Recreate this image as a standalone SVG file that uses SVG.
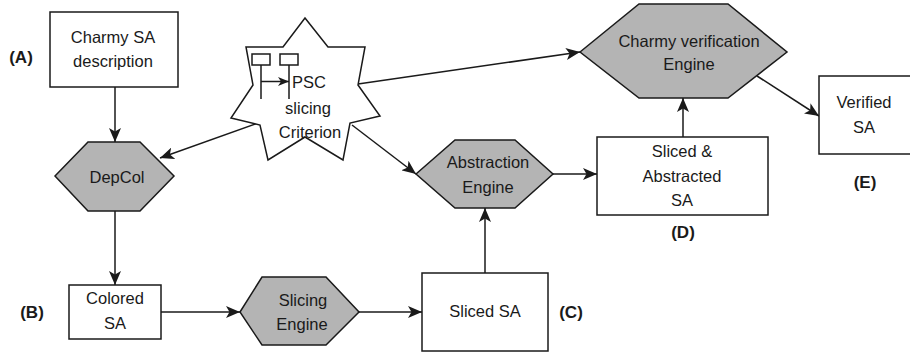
<svg xmlns="http://www.w3.org/2000/svg" width="910" height="352" viewBox="0 0 910 352">
<defs>
<marker id="ah" markerUnits="userSpaceOnUse" markerWidth="15" markerHeight="12" refX="14" refY="6" orient="auto">
<path d="M0,0 L14,6 L0,12 L3.5,6 z" fill="#1a1a1a"/>
</marker>
<marker id="ahs" markerUnits="userSpaceOnUse" markerWidth="12" markerHeight="10" refX="11" refY="4.5" orient="auto">
<path d="M0,0 L11,4.5 L0,9 L3,4.5 z" fill="#1a1a1a"/>
</marker>
<style>
.box{fill:#fff;stroke:#1a1a1a;stroke-width:1.5}
.hex{fill:#b4b4b4;stroke:#1a1a1a;stroke-width:1.5}
.t{font-family:"Liberation Sans",Arial,sans-serif;font-size:16.5px;fill:#1a1a1a;text-anchor:middle}
.lb{font-family:"Liberation Sans",Arial,sans-serif;font-size:17px;font-weight:bold;fill:#1a1a1a;text-anchor:middle}
.c{fill:none;stroke:#1a1a1a;stroke-width:1.5;marker-end:url(#ah)}
</style>
</defs>

<g id="connectors">
<line class="c" x1="115" y1="87" x2="115" y2="142"/>
<line class="c" x1="258" y1="123" x2="160" y2="158"/>
<line class="c" x1="115" y1="211" x2="115" y2="285"/>
<line class="c" x1="161" y1="312" x2="240" y2="312"/>
<line class="c" x1="359" y1="312" x2="422" y2="312"/>
<line class="c" x1="485" y1="273" x2="485" y2="208"/>
<line class="c" x1="352" y1="125" x2="416" y2="174"/>
<line class="c" x1="553" y1="174" x2="597" y2="174"/>
<line class="c" x1="358" y1="84" x2="580" y2="52"/>
<line class="c" x1="683" y1="137" x2="683" y2="98"/>
<line class="c" x1="757" y1="76" x2="819" y2="116"/>
</g>

<g id="nodeA">
<rect class="box" x="50" y="12" width="128" height="75"/>
<text class="t" x="113" y="43">Charmy SA</text>
<text class="t" x="113" y="67">description</text>
</g>
<text class="lb" x="21" y="63">(A)</text>

<g id="psc">
<polygon class="box" points="305,18 328,47 365,47 358,85 380,116 350,123 343,160 305,137 268,160 260,125 231,118 253,85 246,47 283,47"/>
<rect x="252" y="54" width="18" height="11" fill="#fff" stroke="#1a1a1a" stroke-width="1.5"/>
<rect x="280" y="54" width="18" height="11" fill="#fff" stroke="#1a1a1a" stroke-width="1.5"/>
<line x1="261" y1="65" x2="261" y2="99" stroke="#1a1a1a" stroke-width="1.5"/>
<line x1="289" y1="65" x2="289" y2="99" stroke="#1a1a1a" stroke-width="1.5"/>
<line x1="261" y1="81.5" x2="289" y2="81.5" stroke="#1a1a1a" stroke-width="1.5" marker-end="url(#ahs)"/>
<text class="t" x="292" y="88" style="text-anchor:start">PSC</text>
<text class="t" x="308" y="114">slicing</text>
<text class="t" x="310" y="138">Criterion</text>
</g>

<g id="depcol">
<polygon class="hex" points="55,176 88,142 140,142 174,176 140,211 88,211"/>
<text class="t" x="117" y="183">DepCol</text>
</g>

<g id="colored">
<rect class="box" x="69" y="285" width="92" height="54"/>
<text class="t" x="115" y="304">Colored</text>
<text class="t" x="115" y="329">SA</text>
</g>
<text class="lb" x="32" y="318">(B)</text>

<g id="slicing">
<polygon class="hex" points="240,312 262,277 326,277 359,312 326,345 262,345"/>
<text class="t" x="303" y="306">Slicing</text>
<text class="t" x="302" y="330">Engine</text>
</g>

<g id="sliced">
<rect class="box" x="422" y="273" width="126" height="78"/>
<text class="t" x="485" y="317">Sliced SA</text>
</g>
<text class="lb" x="571" y="318">(C)</text>

<g id="abstraction">
<polygon class="hex" points="416,174 455,140 515,140 553,174 515,208 455,208"/>
<text class="t" x="488" y="168">Abstraction</text>
<text class="t" x="488" y="193">Engine</text>
</g>

<g id="slicedabs">
<rect class="box" x="597" y="137" width="171" height="78"/>
<text class="t" x="682" y="157">Sliced &amp;</text>
<text class="t" x="682" y="182">Abstracted</text>
<text class="t" x="682" y="206">SA</text>
</g>
<text class="lb" x="683" y="238">(D)</text>

<g id="verification">
<polygon class="hex" points="580,52 639,4 728,4 787,52 728,98 639,98"/>
<text class="t" x="689" y="47">Charmy verification</text>
<text class="t" x="689" y="70">Engine</text>
</g>

<g id="verified">
<rect class="box" x="819" y="76" width="100" height="78"/>
<text class="t" x="864" y="108">Verified</text>
<text class="t" x="864" y="133">SA</text>
</g>
<text class="lb" x="865" y="188">(E)</text>
</svg>
